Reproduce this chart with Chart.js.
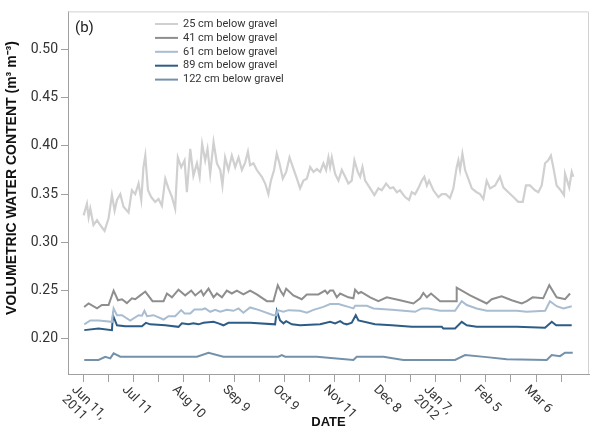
<!DOCTYPE html>
<html><head><meta charset="utf-8">
<script src="https://cdn.jsdelivr.net/npm/chart.js@4.4.0/dist/chart.umd.min.js"></script>
<style>html,body{margin:0;padding:0;background:#fff}#wrap{width:594px;height:431px}</style>
</head><body><div id="wrap"><canvas id="c" width="594" height="431"></canvas></div>
<script>
// ---- DATA (days since Jun 11, 2011; volumetric water content) ----
const seriesLabels = ["25 cm below gravel","41 cm below gravel","61 cm below gravel","89 cm below gravel","122 cm below gravel"];
const seriesColors = ["#d0d0d0","#8e8e8e","#a9bdd1","#2d5d87","#7391ab"];

const days25 = [0.2,2.2,3.2,4.2,6.1,8.2,10.1,12.7,15.1,17.1,18.7,20.1,22.1,24.0,27.0,29.0,31.0,33.0,34.6,35.9,37.0,38.6,40.5,42.9,44.9,46.9,48.9,50.8,52.9,54.8,56.4,58.4,60.4,61.8,63.8,65.7,67.8,69.4,70.9,72.7,74.1,75.7,77.7,79.7,81.7,83.0,84.6,86.6,88.6,90.6,92.6,94.6,96.6,98.2,99.5,101.5,103.5,106.5,108.5,110.4,111.9,113.8,115.4,117.0,119.0,121.0,123.0,125.0,127.4,129.3,131.3,133.3,135.3,137.3,139.3,141.3,143.2,144.8,146.2,147.2,148.2,150.2,152.2,154.2,156.2,158.1,160.1,161.7,163.7,165.1,166.5,168.1,171.1,173.6,176.0,178.0,180.6,183.0,184.9,187.0,188.9,191.9,194.3,195.9,197.9,199.8,201.9,203.4,204.9,206.2,208.8,211.8,213.8,216.2,218.7,220.7,222.7,223.7,224.7,226.1,227.7,229.6,231.7,234.6,236.6,238.6,240.6,242.6,245.6,248.5,250.5,253.5,256.5,259.4,262.1,264.0,266.4,269.4,271.4,273.4,275.4,277.3,278.9,280.3,282.3,284.7,286.7,287.3,289.8,291.3,292.2];
const vwc25 = [0.328,0.340,0.326,0.335,0.318,0.323,0.318,0.312,0.325,0.349,0.333,0.344,0.350,0.337,0.331,0.354,0.350,0.361,0.344,0.378,0.390,0.354,0.347,0.342,0.345,0.338,0.366,0.356,0.347,0.335,0.388,0.378,0.385,0.352,0.397,0.369,0.382,0.368,0.402,0.385,0.397,0.371,0.404,0.382,0.375,0.359,0.388,0.375,0.390,0.378,0.388,0.375,0.383,0.394,0.380,0.382,0.375,0.368,0.361,0.350,0.364,0.375,0.392,0.382,0.366,0.373,0.388,0.378,0.366,0.356,0.364,0.366,0.378,0.373,0.376,0.373,0.382,0.375,0.388,0.378,0.388,0.371,0.364,0.375,0.368,0.361,0.364,0.385,0.373,0.368,0.378,0.364,0.356,0.349,0.356,0.354,0.361,0.356,0.357,0.352,0.354,0.347,0.344,0.352,0.350,0.356,0.364,0.368,0.359,0.364,0.354,0.347,0.350,0.350,0.346,0.356,0.378,0.385,0.375,0.392,0.375,0.366,0.356,0.352,0.350,0.345,0.364,0.356,0.359,0.368,0.357,0.352,0.347,0.342,0.342,0.359,0.359,0.354,0.352,0.359,0.382,0.385,0.390,0.378,0.359,0.354,0.349,0.371,0.357,0.373,0.368];

const days41 = [0.5,3.2,8.2,11.1,15.1,18.1,20.7,23.1,26.0,29.0,31.0,34.0,37.0,41.3,47.9,49.9,52.9,56.8,60.8,64.4,66.8,70.3,71.7,74.7,77.7,79.7,82.7,85.6,88.6,91.6,95.5,99.5,103.5,109.5,113.4,116.0,118.0,119.4,121.0,125.3,130.3,133.3,140.2,144.2,145.6,147.2,149.0,151.2,153.2,158.1,161.1,162.1,164.1,165.7,171.1,176.0,181.0,188.9,196.9,200.9,202.8,204.9,207.4,212.8,222.6,222.7,230.7,240.6,243.6,249.5,255.5,261.5,264.5,268.0,274.3,277.9,282.3,287.3,290.3];
const vwc41 = [0.233,0.2366,0.2315,0.235,0.235,0.250,0.240,0.241,0.237,0.242,0.241,0.245,0.249,0.239,0.239,0.247,0.243,0.251,0.245,0.250,0.245,0.250,0.245,0.252,0.243,0.247,0.243,0.250,0.247,0.250,0.246,0.250,0.246,0.239,0.239,0.2556,0.2487,0.245,0.252,0.245,0.241,0.246,0.246,0.250,0.247,0.250,0.250,0.243,0.247,0.243,0.242,0.251,0.247,0.2487,0.243,0.239,0.243,0.240,0.2366,0.242,0.2476,0.243,0.247,0.239,0.239,0.253,0.245,0.2366,0.241,0.244,0.240,0.2366,0.239,0.243,0.242,0.2556,0.243,0.241,0.247];

const days61 = [0.6,4.2,9.1,17.1,18.1,20.1,23.1,28.0,33.0,35.0,36.5,38.0,41.9,47.9,50.8,54.8,58.4,60.4,63.8,66.3,70.7,72.7,75.7,78.7,81.7,85.6,89.6,92.6,95.5,99.5,104.5,113.4,115.3,115.8,119.4,122.4,129.3,133.3,137.3,143.2,147.2,152.2,154.2,158.1,161.1,162.1,169.1,173.1,184.0,197.9,201.9,205.8,212.8,221.7,225.7,228.7,234.6,240.6,258.5,264.5,275.4,278.3,282.3,286.3,291.3];
const vwc61 = [0.215,0.219,0.219,0.2176,0.2315,0.2245,0.2245,0.219,0.2245,0.224,0.229,0.2235,0.2245,0.220,0.2235,0.2235,0.2297,0.2263,0.2263,0.2304,0.2304,0.2315,0.228,0.230,0.228,0.230,0.229,0.2315,0.227,0.2325,0.230,0.2245,0.2245,0.2297,0.228,0.2297,0.229,0.227,0.230,0.2331,0.236,0.236,0.235,0.2331,0.2315,0.2342,0.2342,0.2315,0.230,0.228,0.2315,0.2315,0.229,0.229,0.239,0.235,0.2315,0.229,0.229,0.228,0.229,0.239,0.2338,0.2315,0.2338];

const days89 = [0.6,9.1,17.1,17.7,20.1,25.0,35.0,37.4,39.9,48.9,56.8,58.8,62.8,65.7,68.7,71.7,77.7,80.6,83.6,86.6,99.5,114.4,115.4,117.4,119.4,121.0,124.4,129.3,141.3,147.2,150.2,153.2,155.1,157.2,160.1,162.5,164.1,174.0,184.0,195.9,213.8,214.7,221.7,225.7,228.7,234.6,258.5,275.4,279.4,282.0,291.3];
const vwc89 = [0.209,0.2107,0.209,0.2245,0.214,0.213,0.213,0.2166,0.215,0.214,0.2124,0.216,0.215,0.216,0.215,0.2166,0.2176,0.216,0.214,0.2166,0.2166,0.215,0.229,0.219,0.216,0.2183,0.215,0.214,0.215,0.2176,0.216,0.2183,0.216,0.215,0.2166,0.2245,0.219,0.215,0.214,0.2124,0.2124,0.2107,0.2107,0.2176,0.214,0.2124,0.2124,0.2114,0.2176,0.214,0.214];

const days122 = [0.6,9.1,13.1,16.1,18.1,22.1,67.8,74.7,83.6,116.4,118.4,120.4,139.3,161.1,163.1,179.0,190.9,221.7,227.7,240.6,252.5,276.4,279.4,284.3,287.3,291.9];
const vwc122 = [0.178,0.178,0.1814,0.1797,0.1849,0.1814,0.1814,0.1855,0.1814,0.1814,0.1831,0.1814,0.1814,0.178,0.1814,0.1814,0.178,0.178,0.1831,0.181,0.1787,0.178,0.1831,0.182,0.1855,0.1855];

const xTickDays = [0,15,30,45,60,75,90,105,120,135,150,165,180,195,210,225,240,255,270,285];
const xLabelDays = [0,30,60,90,120,150,180,210,240,270];
const xLabelText = [["Jun 11,","2011"],["Jul 11"],["Aug 10"],["Sep 9"],["Oct 9"],["Nov 11"],["Dec 8"],["Jan 7,","2012"],["Feb 5"],["Mar 6"]];
const yTicks = [0.20,0.25,0.30,0.35,0.40,0.45,0.50];
const panelLabel = "(b)";
const xTitle = "DATE";
const yTitle = "VOLUMETRIC WATER CONTENT (m\u00B3 m\u207B\u00B3)";

// ---- build ----
const allDays = [days25,days41,days61,days89,days122];
const allVals = [vwc25,vwc41,vwc61,vwc89,vwc122];
const datasets = seriesLabels.map((lab,i)=>({
  label: lab,
  data: allDays[i].map((d,j)=>({x:d,y:allVals[i][j]})),
  borderColor: seriesColors[i],
  backgroundColor: seriesColors[i],
  borderWidth: i===0 ? 2.2 : 2,
  pointRadius: 0,
  tension: 0,
  fill: false
}));

const FONT = "Roboto, 'Noto Sans', sans-serif";

const decor = {
  id: 'decor',
  beforeDatasetsDraw(chart){
    const {ctx, chartArea:a} = chart;
    ctx.save();
    ctx.strokeStyle = '#d2d2d2'; ctx.lineWidth = 1;
    ctx.beginPath();
    ctx.moveTo(a.left, a.top+0.5); ctx.lineTo(a.right-0.5, a.top+0.5); ctx.lineTo(a.right-0.5, a.bottom);
    ctx.stroke();
    ctx.restore();
  },
  afterDraw(chart){
    const {ctx, chartArea:a} = chart;
    const xs = chart.scales.x;
    ctx.save();
    // x labels rotated
    ctx.fillStyle = '#333';
    ctx.font = "13px " + FONT;
    ctx.textAlign = 'left'; ctx.textBaseline = 'top';
    xLabelDays.forEach((d,i)=>{
      const px = xs.getPixelForValue(d);
      ctx.save();
      ctx.translate(px - 5, a.bottom + 9);
      ctx.rotate(Math.PI/4);
      xLabelText[i].forEach((t,k)=>ctx.fillText(t, 0, k*14));
      ctx.restore();
    });
    // y title
    ctx.save();
    ctx.translate(12, 178);
    ctx.rotate(-Math.PI/2);
    ctx.font = "bold 14px 'Liberation Sans', Arial, sans-serif";
    ctx.fillStyle = '#111';
    ctx.textAlign = 'center'; ctx.textBaseline = 'middle';
    ctx.fillText(yTitle, 0, 0);
    ctx.restore();
    // panel label
    ctx.font = "15px " + FONT;
    ctx.fillStyle = '#222';
    ctx.textAlign = 'left'; ctx.textBaseline = 'middle';
    ctx.fillText(panelLabel, a.left + 7, a.top + 17);
    // legend
    ctx.font = "11px " + FONT;
    chart.data.datasets.forEach((ds,i)=>{
      const y = 24 + i*13.9;
      ctx.strokeStyle = ds.borderColor; ctx.lineWidth = 2;
      ctx.beginPath(); ctx.moveTo(155, y); ctx.lineTo(178, y); ctx.stroke();
      ctx.fillStyle = '#333';
      ctx.fillText(ds.label, 183, y);
    });
    ctx.restore();
  }
};

new Chart(document.getElementById('c'), {
  type: 'line',
  data: { datasets },
  options: {
    responsive: false,
    animation: false,
    devicePixelRatio: 1,
    layout: { padding: { top: 10, right: 5, left: 0, bottom: 0 } },
    plugins: { legend: { display: false }, tooltip: { enabled: false } },
    scales: {
      x: {
        type: 'linear', min: -9.1, max: 301.6,
        afterBuildTicks: s => { s.ticks = xTickDays.map(v=>({value:v})); },
        afterFit: s => { s.height = 57; },
        grid: { drawOnChartArea: false, drawTicks: true, tickLength: 8, color: '#a0a0a0' },
        border: { color: '#a0a0a0', width: 1 },
        ticks: { display: false },
        title: { display: true, text: xTitle, color: '#111', font: { family: "'Liberation Sans', Arial, sans-serif", size: 13, weight: 'bold' }, padding: { top: 0, bottom: 1 } }
      },
      y: {
        type: 'linear', min: 0.1635, max: 0.5395,
        afterBuildTicks: s => { s.ticks = yTicks.map(v=>({value:v})); },
        afterFit: s => { s.width = 68; },
        grid: { drawOnChartArea: false, drawTicks: true, tickLength: 7, color: '#a0a0a0' },
        border: { color: '#a0a0a0', width: 1 },
        ticks: { color: '#333', padding: 3, font: { family: FONT, size: 14 }, callback: v => v.toFixed(2) }
      }
    }
  },
  plugins: [decor]
});
</script></body></html>
